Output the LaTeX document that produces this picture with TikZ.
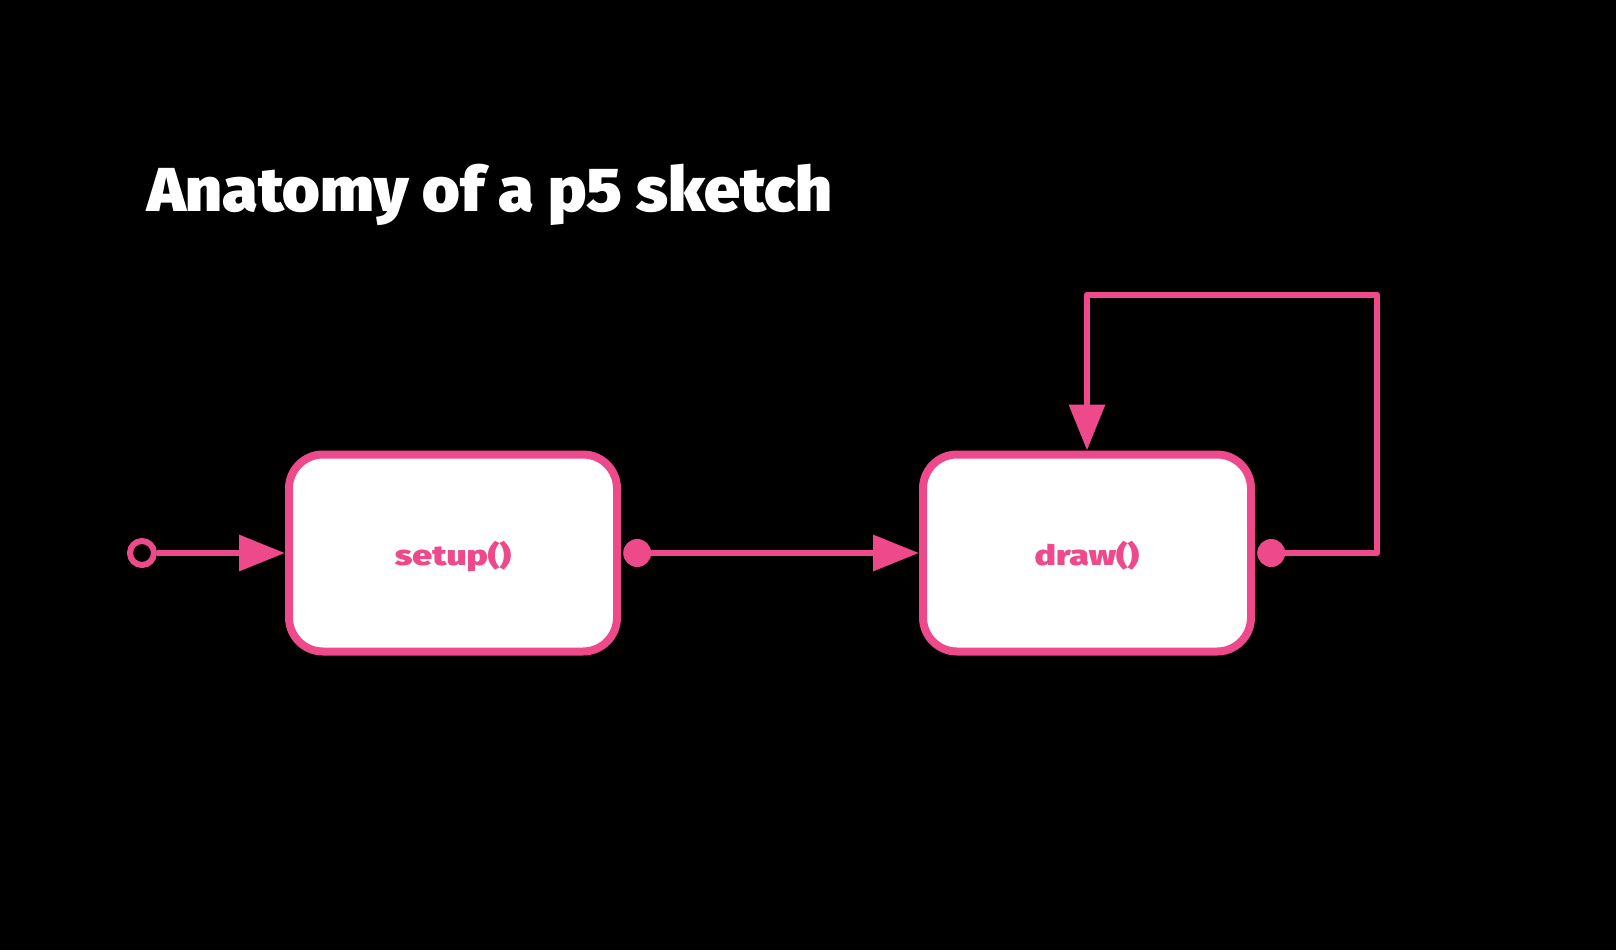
\documentclass[tikz,border=0pt]{standalone}
\usepackage{fontspec}
\setmainfont{Fira Sans}
\newfontfamily\titlefont{Fira Sans Black}[FakeStretch=1.04]
\newfontfamily\labelfont{Fira Sans Black}[FakeStretch=1.27]
\usepackage{tikz}
\usetikzlibrary{arrows.meta,positioning,calc}
\definecolor{pfpink}{HTML}{EE4A8B}

\begin{document}
\begin{tikzpicture}[x=1pt,y=-1pt,>={Triangle[length=46pt,width=35pt]},auto,node distance = 634pt]
\tikzstyle{fnbox}=[draw=pfpink,fill=white,line width=8pt,rounded corners=34pt,minimum width=328pt,minimum height=197pt,text depth=0pt,text=pfpink,font=\labelfont\fontsize{28}{32}\selectfont]
\tikzstyle{dot} = [circle,fill=pfpink,inner sep=0pt,minimum size=28pt]
\tikzstyle{wire} = [color=pfpink,line width=6.5pt,line join=round]

\fill[black] (0,0) rectangle (1616,950);
\useasboundingbox (0,0) rectangle (1616,950);

\node[anchor=base west,text=white,font=\titlefont\fontsize{62}{70}\selectfont,inner sep=0pt] (title) at (147,211) {Anatomy of a p5 sketch};

\node[fnbox] (S) at (453,553) {setup()};
\node[fnbox] (D) [right of = S] {draw()};
\node[circle,draw=pfpink,fill=black,line width=6pt,inner sep=0pt,minimum size=24pt] (start) at (142,553) {};
\node[dot] (Sdot) [right=2pt of S] {};
\node[dot] (Ddot) [right=2pt of D] {};
\coordinate (loop) at (1377,295);

\path[wire,->]
  (start) edge (S)
  (Sdot) edge (D);
\draw[wire,->] (Ddot) -| (loop) -| (D.north);
\end{tikzpicture}
\end{document}
